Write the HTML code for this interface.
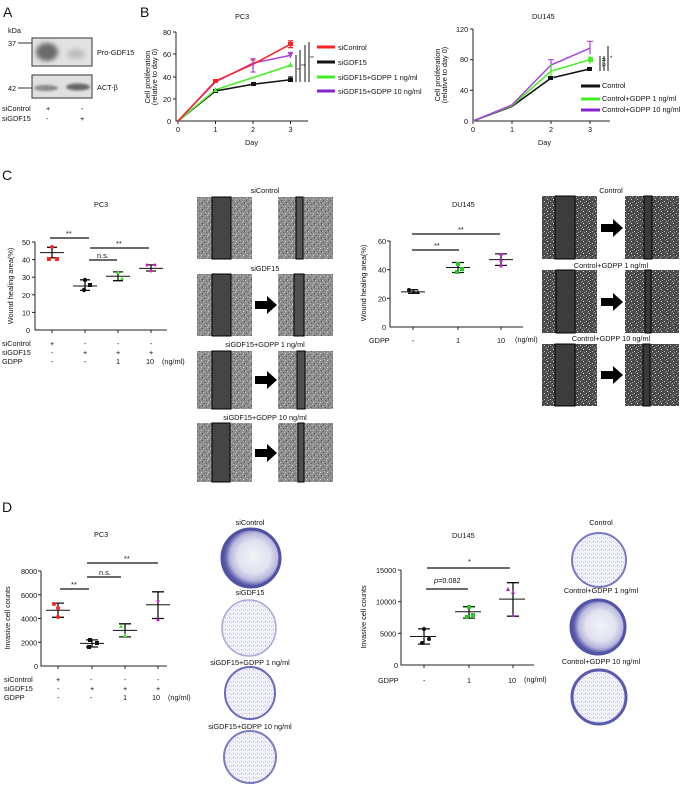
<!DOCTYPE html>
<html><head><meta charset="utf-8"><style>
html,body{margin:0;padding:0;background:#fff;}
svg{display:block;font-family:"Liberation Sans",sans-serif;}
text{fill:#111;font-size:7.3px;}
.L{font-size:14px;fill:#111;}
.ax{stroke:#222;stroke-width:1;fill:none;}
</style></head><body>
<svg width="685" height="785" viewBox="0 0 685 785" xmlns="http://www.w3.org/2000/svg">
<defs>
<filter id="blur" x="-50%" y="-50%" width="200%" height="200%"><feGaussianBlur stdDeviation="2.5"/></filter>
<filter id="blur1" x="-50%" y="-50%" width="200%" height="200%"><feGaussianBlur stdDeviation="1.2"/></filter>
<pattern id="pcx" width="7" height="7" patternUnits="userSpaceOnUse">
<rect width="7" height="7" fill="#8e8e8e"/>
<rect x="0" y="0" width="1" height="1" fill="#c8c8c8"/><rect x="3" y="1" width="1" height="1" fill="#5a5a5a"/>
<rect x="5" y="3" width="1" height="1" fill="#d0d0d0"/><rect x="1" y="4" width="1" height="1" fill="#606060"/>
<rect x="4" y="5" width="1" height="1" fill="#bdbdbd"/><rect x="6" y="6" width="1" height="1" fill="#555"/>
<rect x="2" y="2" width="1" height="1" fill="#b0b0b0"/><rect x="6" y="0" width="1" height="1" fill="#666"/>
</pattern>
<pattern id="dux" width="6" height="6" patternUnits="userSpaceOnUse">
<rect width="6" height="6" fill="#4a4a4a"/>
<rect x="1" y="1" width="1" height="1" fill="#d8d8d8"/><rect x="4" y="3" width="1" height="1" fill="#bbb"/>
<rect x="2" y="4" width="1" height="1" fill="#999"/><rect x="5" y="0" width="1" height="1" fill="#777"/>
<rect x="0" y="5" width="1" height="1" fill="#aaa"/>
</pattern>
<pattern id="dot" width="4" height="4" patternUnits="userSpaceOnUse">
<rect width="4" height="4" fill="#f0f0f7"/>
<rect x="1" y="1" width="1" height="1" fill="#b4b4dc"/><rect x="3" y="2" width="1" height="1" fill="#cfcfe8"/>
</pattern>
<radialGradient id="dishD" cx="55%" cy="48%" r="50%">
<stop offset="0%" stop-color="#f2f2f8"/><stop offset="55%" stop-color="#e2e2f0"/><stop offset="82%" stop-color="#b8b8dc"/><stop offset="100%" stop-color="#5a5aaa"/>
</radialGradient>
<g id="arrow"><rect x="0" y="-4" width="13" height="8" fill="#000"/><polygon points="12,-9 22,0 12,9" fill="#000"/></g>
</defs>

<!-- Panel A -->
<text x="3" y="17" class="L">A</text>
<text x="8" y="33">kDa</text>
<rect x="32" y="38" width="60" height="28" fill="#e2e2e2" stroke="#333" stroke-width="1"/>
<ellipse cx="47" cy="52" rx="11" ry="9" fill="#6a6a6a" filter="url(#blur)"/>
<ellipse cx="76" cy="54" rx="9" ry="5" fill="#bdbdbd" filter="url(#blur)"/>
<rect x="32" y="75" width="60" height="23" fill="#e0e0e0" stroke="#333" stroke-width="1"/>
<ellipse cx="46" cy="88" rx="12" ry="3" fill="#888" filter="url(#blur1)"/>
<ellipse cx="78" cy="87" rx="12" ry="3.5" fill="#666" filter="url(#blur1)"/>
<text x="8" y="46">37</text><line x1="18" y1="43" x2="32" y2="43" stroke="#333"/>
<text x="8" y="91">42</text><line x1="18" y1="88" x2="32" y2="88" stroke="#333"/>
<text x="97" y="55">Pro-GDF15</text>
<text x="97" y="90">ACT-β</text>
<text x="2" y="111">siControl</text><text x="46" y="111">+</text><text x="81" y="111">-</text>
<text x="2" y="121">siGDF15</text><text x="46" y="121">-</text><text x="80" y="121">+</text>

<!-- Panel B PC3 -->
<text x="140" y="17" class="L">B</text>
<text x="235" y="19">PC3</text>
<path class="ax" d="M176,32 V121 H308"/>
<g stroke="#222"><line x1="173" y1="32" x2="176" y2="32"/><line x1="173" y1="54" x2="176" y2="54"/><line x1="173" y1="77" x2="176" y2="77"/><line x1="173" y1="99" x2="176" y2="99"/>
<line x1="178" y1="121" x2="178" y2="124"/><line x1="215.5" y1="121" x2="215.5" y2="124"/><line x1="253" y1="121" x2="253" y2="124"/><line x1="290.5" y1="121" x2="290.5" y2="124"/></g>
<text x="163" y="35">80</text><text x="163" y="57">60</text><text x="163" y="80">40</text><text x="163" y="102">20</text><text x="167" y="124">0</text>
<text x="176" y="132">0</text><text x="213.5" y="132">1</text><text x="251" y="132">2</text><text x="288.5" y="132">3</text>
<text x="245" y="145">Day</text>
<text transform="translate(150,77) rotate(-90)" text-anchor="middle">Cell proliferation</text>
<text transform="translate(157,77) rotate(-90)" text-anchor="middle">(relative to day 0)</text>
<g fill="none" stroke-width="1.5">
<polyline stroke="#111" points="178,121 215.5,91 253,84.3 290.5,79.8"/>
<polyline stroke="#44ee22" points="178,121 215.5,89.8 253,77.6 290.5,65.4"/>
<polyline stroke="#aa44dd" points="178,121 215.5,82 253,63.1 290.5,55.4"/>
<polyline stroke="#ff2222" points="178,121 215.5,81 253,64.3 290.5,44.2"/>
</g>
<g stroke-width="1.2">
<path stroke="#ff2222" d="M290.5,40.9V47.6M288,40.9h5M288,47.6h5M253,60V69M250.5,60h5"/>
<path stroke="#aa44dd" d="M253,58.7V72M250.5,58.7h5M250.5,72h5M290.5,52.5V58M288,52.5h5"/>
<path stroke="#111" d="M290.5,77V82M288,77h5"/>
</g>
<rect x="213" y="79" width="5" height="4" fill="#ff2222"/><rect x="288" y="42" width="5" height="4" fill="#ff2222"/>
<rect x="213" y="89" width="5" height="4" fill="#111"/><rect x="251" y="82" width="5" height="4" fill="#111"/><rect x="288" y="78" width="5" height="4" fill="#111"/>
<polygon points="290.5,62 293,67 288,67" fill="#44ee22"/><polygon points="215.5,87 218,92 213,92" fill="#44ee22"/>
<polygon points="290.5,58 293,53 288,53" fill="#aa44dd"/>
<g stroke="#111" stroke-width="1"><line x1="296" y1="55" x2="296" y2="82"/><line x1="300" y1="50" x2="300" y2="82"/><line x1="305" y1="45" x2="305" y2="82"/><line x1="309" y1="42" x2="309" y2="82"/></g>
<text x="297" y="72" style="font-size:5px">**</text><text x="301" y="68" style="font-size:5px">**</text><text x="310" y="60" style="font-size:5px">**</text>
<g stroke-width="3"><line x1="317" y1="47" x2="335" y2="47" stroke="#ff2222"/><line x1="317" y1="62" x2="335" y2="62" stroke="#111"/><line x1="317" y1="77" x2="335" y2="77" stroke="#44ee22"/><line x1="317" y1="91" x2="335" y2="91" stroke="#8822cc"/></g>
<text x="338" y="50">siControl</text><text x="338" y="65">siGDF15</text>
<text x="338" y="80">siGDF15+GDPP   1 ng/ml</text><text x="338" y="94">siGDF15+GDPP   10 ng/ml</text>

<!-- Panel B DU145 -->
<text x="532" y="19">DU145</text>
<path class="ax" d="M473,29 V121 H610"/>
<g stroke="#222"><line x1="470" y1="29" x2="473" y2="29"/><line x1="470" y1="59.7" x2="473" y2="59.7"/><line x1="470" y1="90.3" x2="473" y2="90.3"/>
<line x1="473" y1="121" x2="473" y2="124"/><line x1="512" y1="121" x2="512" y2="124"/><line x1="551" y1="121" x2="551" y2="124"/><line x1="590" y1="121" x2="590" y2="124"/></g>
<text x="456" y="32">120</text><text x="460" y="62">80</text><text x="460" y="93">40</text><text x="464" y="124">0</text>
<text x="471" y="132">0</text><text x="510" y="132">1</text><text x="549" y="132">2</text><text x="588" y="132">3</text>
<text x="538" y="145">Day</text>
<text transform="translate(440,75) rotate(-90)" text-anchor="middle">Cell proliferation</text>
<text transform="translate(447,75) rotate(-90)" text-anchor="middle">(relative to day 0)</text>
<g fill="none" stroke-width="1.5">
<polyline stroke="#111" points="473,121 512,106.4 551,78.1 590,68.9"/>
<polyline stroke="#44ee22" points="473,121 512,105.7 551,71.2 590,59.7"/>
<polyline stroke="#aa44dd" points="473,121 512,104.9 551,65 590,48.2"/>
</g>
<g stroke-width="1.2">
<path stroke="#aa44dd" d="M590,41.3V54.3M587,41.3h6M551,59.7V71.2M548,59.7h6"/>
<path stroke="#44ee22" d="M551,64V78M548,78h6M590,56V64"/>
</g>
<rect x="548" y="76" width="5" height="4" fill="#111"/><rect x="587" y="67" width="5" height="4" fill="#111"/>
<rect x="588" y="57" width="5" height="5" fill="#44ee22"/>
<g stroke="#111"><line x1="600" y1="56" x2="600" y2="71"/><line x1="604" y1="56" x2="604" y2="71"/><line x1="608" y1="46" x2="608" y2="71"/></g>
<text transform="translate(602,58) rotate(90)" style="font-size:6px">n.s.</text><text x="610" y="60" style="font-size:6px">*</text>
<g stroke-width="3"><line x1="581" y1="86" x2="600" y2="86" stroke="#111"/><line x1="581" y1="99" x2="600" y2="99" stroke="#44ee22"/><line x1="581" y1="110" x2="600" y2="110" stroke="#8822cc"/></g>
<text x="602" y="88">Control</text><text x="602" y="101">Control+GDPP   1 ng/ml</text><text x="602" y="112">Control+GDPP   10 ng/ml</text>

<!-- Panel C -->
<text x="2" y="180" class="L">C</text>
<text x="94" y="207">PC3</text>
<path class="ax" d="M35,242 V330 H167"/>
<g stroke="#222"><line x1="32" y1="242" x2="35" y2="242"/><line x1="32" y1="259.6" x2="35" y2="259.6"/><line x1="32" y1="277.2" x2="35" y2="277.2"/><line x1="32" y1="294.8" x2="35" y2="294.8"/><line x1="32" y1="312.4" x2="35" y2="312.4"/>
<line x1="52" y1="330" x2="52" y2="333"/><line x1="85" y1="330" x2="85" y2="333"/><line x1="118" y1="330" x2="118" y2="333"/><line x1="151" y1="330" x2="151" y2="333"/></g>
<text x="22" y="245">50</text><text x="22" y="262.6">40</text><text x="22" y="280.2">30</text><text x="22" y="297.8">20</text><text x="22" y="315.4">10</text><text x="26" y="333">0</text>
<text transform="translate(13,286) rotate(-90)" text-anchor="middle">Wound healing area(%)</text>
<g stroke="#111" stroke-width="1.3">
<path d="M52,247.3V257.8M47,247.3h10M47,257.8h10M85,279.8V290.4M80,279.8h10M80,290.4h10M118,271.9V280.7M113,271.9h10M113,280.7h10M151,264.9V271M146,264.9h10M146,271h10"/>
<path stroke-width="1" d="M40,252.6h24M73,286h24M106,276.3h24M139,268.4h24"/>
</g>
<circle cx="52" cy="247" r="2" fill="#ff2222"/><rect x="47" y="257" width="4" height="4" fill="#ff2222"/><rect x="55" y="257" width="4" height="4" fill="#ff2222"/>
<circle cx="85" cy="280" r="2.2" fill="#111"/><circle cx="84" cy="290" r="2.2" fill="#111"/><rect x="88" y="283" width="4" height="4" fill="#111"/>
<polygon points="118,270 120,274 116,274" fill="#44ee22"/><polygon points="122,276 124,280 120,280" fill="#44ee22"/>
<circle cx="147" cy="265" r="1.5" fill="#cc22cc"/><circle cx="151" cy="271" r="1.5" fill="#cc22cc"/><circle cx="155" cy="265" r="1.5" fill="#cc22cc"/>
<g stroke="#111" stroke-width="1.3"><line x1="50" y1="238" x2="89" y2="238"/><line x1="90" y1="248" x2="149" y2="248"/><line x1="89" y1="260" x2="117" y2="260"/></g>
<text x="66" y="236">**</text><text x="116" y="246">**</text><text x="97" y="258">n.s.</text>
<text x="2" y="346">siControl</text><text x="2" y="355">siGDF15</text><text x="2" y="364">GDPP</text>
<text x="50" y="346">+</text><text x="84" y="346">-</text><text x="117" y="346">-</text><text x="150" y="346">-</text>
<text x="51" y="355">-</text><text x="83" y="355">+</text><text x="116" y="355">+</text><text x="149" y="355">+</text>
<text x="51" y="364">-</text><text x="84" y="364">-</text><text x="116" y="364">1</text><text x="146" y="364">10</text><text x="162" y="364">(ng/ml)</text>

<!-- PC3 wound images -->
<g>
<text x="265" y="193" text-anchor="middle">siControl</text>
<rect x="197" y="197" width="55" height="62" fill="url(#pcx)"/><rect x="212" y="197" width="19" height="62" fill="#454545" stroke="#000"/>
<rect x="278" y="197" width="55" height="62" fill="url(#pcx)"/><rect x="296" y="197" width="7" height="62" fill="#555" stroke="#000"/>
<text x="265" y="271" text-anchor="middle">siGDF15</text>
<rect x="197" y="274" width="55" height="62" fill="url(#pcx)"/><rect x="212" y="274" width="19" height="62" fill="#454545" stroke="#000"/>
<use href="#arrow" x="255" y="305"/>
<rect x="278" y="274" width="55" height="62" fill="url(#pcx)"/><rect x="294" y="274" width="10" height="62" fill="#505050" stroke="#000"/>
<text x="265" y="347" text-anchor="middle">siGDF15+GDPP   1 ng/ml</text>
<rect x="197" y="351" width="55" height="58" fill="url(#pcx)"/><rect x="212" y="351" width="19" height="58" fill="#454545" stroke="#000"/>
<use href="#arrow" x="255" y="380"/>
<rect x="278" y="351" width="55" height="58" fill="url(#pcx)"/><rect x="297" y="351" width="8" height="58" fill="#505050" stroke="#000"/>
<text x="265" y="420" text-anchor="middle">siGDF15+GDPP   10 ng/ml</text>
<rect x="197" y="423" width="55" height="59" fill="url(#pcx)"/><rect x="212" y="423" width="18" height="59" fill="#454545" stroke="#000"/>
<use href="#arrow" x="255" y="453"/>
<rect x="278" y="423" width="55" height="59" fill="url(#pcx)"/><rect x="298" y="423" width="6" height="59" fill="#505050" stroke="#000"/>
</g>

<!-- DU145 wound chart -->
<text x="452" y="207">DU145</text>
<path class="ax" d="M390,241 V327 H523"/>
<g stroke="#222"><line x1="387" y1="241" x2="390" y2="241"/><line x1="387" y1="298.3" x2="390" y2="298.3"/><line x1="387" y1="269.7" x2="390" y2="269.7"/>
<line x1="413" y1="327" x2="413" y2="330"/><line x1="458" y1="327" x2="458" y2="330"/><line x1="501" y1="327" x2="501" y2="330"/></g>
<text x="378" y="244">60</text><text x="378" y="272.7">40</text><text x="378" y="301.3">20</text><text x="382" y="330">0</text>
<text transform="translate(366,283) rotate(-90)" text-anchor="middle">Wound healing area(%)</text>
<g stroke="#111" stroke-width="1.3">
<path d="M413,289.7V293.3M408,289.7h10M408,293.3h10M458,262.5V272.5M452,262.5h12M452,272.5h12M501,253.9V265.4M495,253.9h12M495,265.4h12"/>
<path stroke-width="1" d="M401,291.9h24M446,267.5h24M489,259.6h24"/>
</g>
<circle cx="409" cy="290" r="2" fill="#111"/><polygon points="414,290 416,294 412,294" fill="#111"/><polygon points="418,290 420,294 416,294" fill="#111"/>
<rect x="456" y="262" width="4" height="4" fill="#22cc22"/><rect x="460" y="267" width="4" height="4" fill="#22cc22"/><rect x="455" y="270" width="4" height="4" fill="#22cc22"/>
<circle cx="501" cy="255" r="1.6" fill="#cc22cc"/><circle cx="501" cy="261" r="1.6" fill="#cc22cc"/><circle cx="501" cy="266" r="1.6" fill="#cc22cc"/>
<g stroke="#111" stroke-width="1.3"><line x1="412" y1="234" x2="500" y2="234"/><line x1="412" y1="250" x2="459" y2="250"/></g>
<text x="458" y="232">**</text><text x="434" y="248">**</text>
<text x="369" y="343">GDPP</text><text x="412" y="343">-</text><text x="456" y="343">1</text><text x="497" y="343">10</text><text x="515" y="342">(ng/ml)</text>

<!-- DU145 wound images -->
<text x="611" y="193" text-anchor="middle">Control</text>
<rect x="542" y="196" width="55" height="63" fill="url(#dux)"/><rect x="555" y="196" width="20" height="63" fill="#3c3c3c" stroke="#000"/>
<use href="#arrow" x="601" y="228"/>
<rect x="625" y="196" width="54" height="63" fill="url(#dux)"/><rect x="644" y="196" width="8" height="63" fill="#3a3a3a" stroke="#000"/>
<text x="611" y="268" text-anchor="middle">Control+GDPP   1 ng/ml</text>
<rect x="542" y="270" width="55" height="63" fill="url(#dux)"/><rect x="556" y="270" width="19" height="63" fill="#3c3c3c" stroke="#000"/>
<use href="#arrow" x="601" y="302"/>
<rect x="625" y="270" width="54" height="63" fill="url(#dux)"/><rect x="645" y="270" width="6" height="63" fill="#3a3a3a" stroke="#000"/>
<text x="611" y="341" text-anchor="middle">Control+GDPP   10 ng/ml</text>
<rect x="542" y="344" width="55" height="62" fill="url(#dux)"/><rect x="555" y="344" width="20" height="62" fill="#3c3c3c" stroke="#000"/>
<use href="#arrow" x="601" y="375"/>
<rect x="625" y="344" width="54" height="62" fill="url(#dux)"/><rect x="643" y="344" width="7" height="62" fill="#3a3a3a" stroke="#000"/>

<!-- Panel D -->
<text x="2" y="512" class="L">D</text>
<text x="94" y="537">PC3</text>
<path class="ax" d="M41,571 V666 H167"/>
<g stroke="#222"><line x1="38" y1="571" x2="41" y2="571"/><line x1="38" y1="594.75" x2="41" y2="594.75"/><line x1="38" y1="618.5" x2="41" y2="618.5"/><line x1="38" y1="642.25" x2="41" y2="642.25"/>
<line x1="58" y1="666" x2="58" y2="669"/><line x1="92" y1="666" x2="92" y2="669"/><line x1="125" y1="666" x2="125" y2="669"/><line x1="158" y1="666" x2="158" y2="669"/></g>
<text x="21" y="574">8000</text><text x="21" y="597.75">6000</text><text x="21" y="621.5">4000</text><text x="21" y="645.25">2000</text><text x="34" y="669">0</text>
<text transform="translate(10,618) rotate(-90)" text-anchor="middle">Invasive cell counts</text>
<g stroke="#111" stroke-width="1.3">
<path d="M58,603.1V617.3M52,603.1h12M52,617.3h12M92,639.9V647M86,639.9h12M86,647h12M125,623.8V636.9M119,623.8h12M119,636.9h12M158,591.8V618.5M152,591.8h12M152,618.5h12"/>
<path stroke-width="1" d="M46,610.2h24M80,643.4h24M113,630.4h24M146,604.8h24"/>
</g>
<circle cx="54" cy="604" r="2" fill="#ff2222"/><circle cx="58" cy="608" r="2" fill="#ff2222"/><circle cx="58" cy="617" r="2" fill="#ff2222"/>
<rect x="88" y="638" width="4" height="4" fill="#111"/><rect x="95" y="641" width="4" height="4" fill="#111"/><rect x="87" y="645" width="4" height="4" fill="#111"/>
<polygon points="121,624 123,628 119,628" fill="#44ee22"/><polygon points="125,633 127,637 123,637" fill="#44ee22"/>
<circle cx="158" cy="601" r="1.5" fill="#cc22cc"/><circle cx="158" cy="620" r="1.5" fill="#cc22cc"/>
<g stroke="#111" stroke-width="1.3"><line x1="60" y1="589" x2="89" y2="589"/><line x1="87" y1="577" x2="121" y2="577"/><line x1="87" y1="563" x2="158" y2="563"/></g>
<text x="71" y="587">**</text><text x="99" y="575">n.s.</text><text x="124" y="561">**</text>
<text x="4" y="682">siControl</text><text x="4" y="691">siGDF15</text><text x="4" y="700">GDPP</text>
<text x="56" y="682">+</text><text x="90" y="682">-</text><text x="124" y="682">-</text><text x="157" y="682">-</text>
<text x="57" y="691">-</text><text x="90" y="691">+</text><text x="123" y="691">+</text><text x="156" y="691">+</text>
<text x="57" y="700">-</text><text x="90" y="700">-</text><text x="123" y="700">1</text><text x="152" y="700">10</text><text x="168" y="700">(ng/ml)</text>

<!-- PC3 dishes -->
<text x="250" y="525" text-anchor="middle">siControl</text>
<ellipse cx="251" cy="558" rx="29" ry="29" fill="url(#dishD)" stroke="#5050a4" stroke-width="3"/>
<text x="250" y="595" text-anchor="middle">siGDF15</text>
<ellipse cx="249" cy="628" rx="27" ry="28" fill="url(#dot)" stroke="#a8a8d8" stroke-width="1.5"/>
<text x="250" y="665" text-anchor="middle">siGDF15+GDPP   1 ng/ml</text>
<ellipse cx="250" cy="693" rx="25" ry="26" fill="url(#dot)" stroke="#6a6abc" stroke-width="2"/>
<text x="250" y="729" text-anchor="middle">siGDF15+GDPP   10 ng/ml</text>
<ellipse cx="250" cy="757" rx="26" ry="26" fill="url(#dot)" stroke="#7c7cc4" stroke-width="2"/>

<!-- DU145 invasion chart -->
<text x="452" y="538">DU145</text>
<path class="ax" d="M401,570 V665 H534"/>
<g stroke="#222"><line x1="398" y1="570" x2="401" y2="570"/><line x1="398" y1="601.7" x2="401" y2="601.7"/><line x1="398" y1="633.3" x2="401" y2="633.3"/>
<line x1="424" y1="665" x2="424" y2="668"/><line x1="469" y1="665" x2="469" y2="668"/><line x1="513" y1="665" x2="513" y2="668"/></g>
<text x="376" y="573">15000</text><text x="376" y="604.7">10000</text><text x="380" y="636.3">5000</text><text x="394" y="668">0</text>
<text transform="translate(366,617) rotate(-90)" text-anchor="middle">Invasive cell counts</text>
<g stroke="#111" stroke-width="1.3">
<path d="M424,628.9V644.1M418,628.9h12M418,644.1h12M469,606.7V618.1M463,606.7h12M463,618.1h12M513,582.7V616.2M507,582.7h12M507,616.2h12"/>
<path stroke-width="1" d="M410,636.5h26M455,611.8h26M499,599.1h26"/>
</g>
<circle cx="424" cy="629" r="2" fill="#111"/><circle cx="429" cy="639" r="2" fill="#111"/><circle cx="422" cy="643" r="2" fill="#111"/>
<rect x="467" y="605" width="4" height="4" fill="#22cc22"/><rect x="471" y="613" width="4" height="4" fill="#22cc22"/><rect x="465" y="615" width="4" height="4" fill="#22cc22"/>
<polygon points="508,587 510,591 506,591" fill="#aa22cc"/><polygon points="513,590 515,594 511,594" fill="#aa22cc"/><polygon points="513,613 515,617 511,617" fill="#aa22cc"/>
<g stroke="#111" stroke-width="1.3"><line x1="427" y1="568" x2="510" y2="568"/><line x1="426" y1="589" x2="468" y2="589"/></g>
<text x="468" y="564">*</text><text x="434" y="583"><tspan font-style="italic">p</tspan>=0.082</text>
<text x="378" y="683">GDPP</text><text x="423" y="683">-</text><text x="467" y="683">1</text><text x="508" y="683">10</text><text x="524" y="682">(ng/ml)</text>

<!-- DU145 dishes -->
<text x="601" y="525" text-anchor="middle">Control</text>
<ellipse cx="599" cy="560" rx="27" ry="27" fill="url(#dot)" stroke="#7a7ac0" stroke-width="2"/>
<text x="601" y="593" text-anchor="middle">Control+GDPP   1 ng/ml</text>
<ellipse cx="598" cy="627" rx="27" ry="27" fill="url(#dishD)" stroke="#5252a8" stroke-width="3"/>
<text x="601" y="664" text-anchor="middle">Control+GDPP   10 ng/ml</text>
<ellipse cx="599" cy="697" rx="27" ry="27" fill="url(#dot)" stroke="#5a5ab0" stroke-width="3"/>
</svg>
</body></html>
